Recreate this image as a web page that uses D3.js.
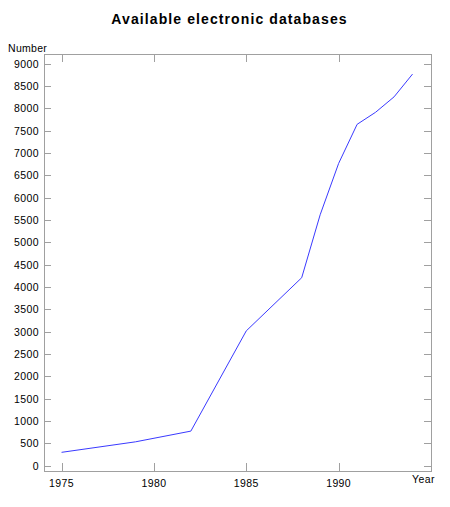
<!DOCTYPE html>
<html>
<head>
<meta charset="utf-8">
<script src="https://cdn.jsdelivr.net/npm/d3@7"></script>
<style>
  body { margin: 0; background: #fff; }
  svg { display: block; font-family: "Liberation Sans", Arial, sans-serif; }
</style>
</head>
<body>
<script>
const years = [1975, 1979, 1982, 1985, 1988, 1989, 1990, 1991, 1992, 1993, 1994];
const counts = [300, 535, 775, 3020, 4210, 5620, 6770, 7645, 7915, 8260, 8770];
const xTicks = [1975, 1980, 1985, 1990];
const yTicks = d3.range(0, 9001, 500);

const width = 450, height = 507;
const plotLeft = 44, plotRight = 431, plotTop = 54, plotBottom = 471;

const x = d3.scaleLinear().domain([1974.05, 1995]).range([plotLeft, plotRight]);
const y = d3.scaleLinear().domain([-118, 9220]).range([plotBottom, plotTop]);

const svg = d3.select('body').append('svg')
  .attr('width', width)
  .attr('height', height);

svg.append('text')
  .attr('x', 229.5).attr('y', 24)
  .attr('text-anchor', 'middle')
  .attr('font-size', 14).attr('font-weight', 'bold')
  .attr('letter-spacing', 1.1)
  .text('Available electronic databases');

const grey = '#a0a0a0';

// frame
svg.append('rect')
  .attr('x', plotLeft + 0.5).attr('y', plotTop + 0.5)
  .attr('width', plotRight - plotLeft).attr('height', plotBottom - plotTop)
  .attr('fill', 'none').attr('stroke', grey);

// y ticks (inside, both sides)
const yg = svg.append('g');
yg.selectAll('line.l').data(yTicks).enter().append('line')
  .attr('x1', plotLeft).attr('x2', plotLeft + 7)
  .attr('y1', d => Math.round(y(d)) + 0.5).attr('y2', d => Math.round(y(d)) + 0.5)
  .attr('stroke', grey);
yg.selectAll('line.r').data(yTicks).enter().append('line')
  .attr('x1', plotRight - 7).attr('x2', plotRight)
  .attr('y1', d => Math.round(y(d)) + 0.5).attr('y2', d => Math.round(y(d)) + 0.5)
  .attr('stroke', grey);
yg.selectAll('text').data(yTicks).enter().append('text')
  .attr('x', 39).attr('y', d => y(d) + 4)
  .attr('text-anchor', 'end')
  .attr('font-size', 10.5)
  .attr('letter-spacing', 0.4)
  .text(d => d);

// x ticks (inside, top and bottom)
const xg = svg.append('g');
xg.selectAll('line.b').data(xTicks).enter().append('line')
  .attr('x1', d => Math.round(x(d)) + 0.5).attr('x2', d => Math.round(x(d)) + 0.5)
  .attr('y1', plotBottom - 8).attr('y2', plotBottom)
  .attr('stroke', grey);
xg.selectAll('line.t').data(xTicks).enter().append('line')
  .attr('x1', d => Math.round(x(d)) + 0.5).attr('x2', d => Math.round(x(d)) + 0.5)
  .attr('y1', plotTop).attr('y2', plotTop + 8)
  .attr('stroke', grey);
xg.selectAll('text').data(xTicks).enter().append('text')
  .attr('x', d => x(d)).attr('y', 487)
  .attr('text-anchor', 'middle')
  .attr('font-size', 10.5)
  .attr('letter-spacing', 0.4)
  .text(d => d);

svg.append('text')
  .attr('x', 8).attr('y', 52)
  .attr('font-size', 10.5)
  .attr('letter-spacing', 0.3)
  .text('Number');

svg.append('text')
  .attr('x', 412).attr('y', 483)
  .attr('font-size', 10.5)
  .attr('letter-spacing', 0.4)
  .text('Year');

const line = d3.line()
  .x((d, i) => x(years[i]))
  .y(d => y(d));

svg.append('path')
  .datum(counts)
  .attr('d', line)
  .attr('fill', 'none')
  .attr('stroke', '#3a3aff')
  .attr('stroke-width', 1);
</script>
</body>
</html>
